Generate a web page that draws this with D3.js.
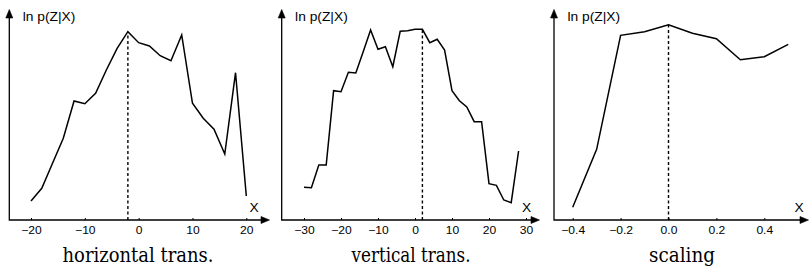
<!DOCTYPE html>
<html>
<head>
<meta charset="utf-8">
<script src="https://cdn.jsdelivr.net/npm/d3@7"></script>
<style>
  body { margin: 0; background: #fff; }
  svg { display: block; }
</style>
</head>
<body>
<div id="chart"></div>
<script>
// values (height of the curve, arbitrary log units)
var horizX = [-20, -18, -16, -14, -12, -10, -8, -6, -4, -2, 0, 2, 4, 6, 8, 10, 12, 14, 16, 18, 20];
var horizY = [19, 31.7, 56.7, 81.7, 119, 116.3, 126.7, 150, 171.7, 188.3, 177.3, 174, 164.3, 159.3, 185, 116.7, 101.7, 90.7, 66, 147.3, 24];

var vertX = [-30, -28, -26, -24, -22, -20, -18, -16, -14, -12, -10, -8, -6, -4, -2, 0, 2, 4, 6, 8, 10, 12, 14, 16, 18, 20, 22, 24, 26, 28];
var vertY = [32.7, 32.3, 55, 55, 129.3, 128.3, 147.7, 147, 168.3, 190, 170.7, 173.3, 153.3, 188.7, 189.3, 190.7, 190.7, 177.3, 180.7, 170, 129.3, 119.3, 113, 98.3, 98.3, 36.3, 34.7, 20, 17.3, 69];

var scaleX = [-0.4, -0.3, -0.2, -0.1, 0, 0.1, 0.2, 0.3, 0.4, 0.5];
var scaleY = [12.7, 70.7, 184.7, 188.3, 195.3, 186.7, 181.3, 160.3, 163.3, 175.7];

var horizTicks = [-20, -10, 0, 10, 20];
var vertTicks = [-30, -20, -10, 0, 10, 20, 30];
var scaleTicks = [-0.4, -0.2, 0, 0.2, 0.4];

var peaks = [-2, 2, 0];
var titles = ["horizontal trans.", "vertical trans.", "scaling"];
var yLabel = "ln p(Z|X)";
var xLabel = "X";

var width = 809, height = 273;
var sans = "Liberation Sans, Arial, sans-serif";
var serif = "DejaVu Serif, serif";

var svg = d3.select("#chart").append("svg")
    .attr("width", width)
    .attr("height", height);

// panel layout (pixel positions of axes)
var panels = [
  {xs: horizX, ys: horizY, ticks: horizTicks, dom: [-20, 20], rng: [31, 246.3], ax: 9.3, end: 269.5, xl: 254, peak: peaks[0], title: titles[0], tc: 138, tw: 151},
  {xs: vertX, ys: vertY, ticks: vertTicks, dom: [-30, 30], rng: [304, 526], ax: 281.7, end: 539.5, xl: 526.5, peak: peaks[1], title: titles[1], tc: 411, tw: 119},
  {xs: scaleX, ys: scaleY, ticks: scaleTicks, dom: [-0.4, 0.4], rng: [572.7, 764.3], ax: 554, end: 808.5, xl: 799, peak: peaks[2], title: titles[2], tc: 682, tw: 66}
];

var axisY = 220, topY = 9.5;
var y = d3.scaleLinear().domain([0, 210]).range([axisY, 10]);

panels.forEach(function(p){
  var x = d3.scaleLinear().domain(p.dom).range(p.rng);
  var g = svg.append("g");
  var pts = p.xs.map(function(v, i){ return [v, p.ys[i]]; });

  // ticks + labels
  var axis = d3.axisBottom(x)
      .tickValues(p.ticks)
      .tickSizeInner(-2)
      .tickSizeOuter(0)
      .tickPadding(7);
  var ag = g.append("g")
      .attr("transform", "translate(0," + axisY + ")")
      .call(axis)
      .attr("font-family", sans)
      .attr("font-size", 10.5);
  ag.select(".domain").remove();
  ag.selectAll(".tick line").attr("stroke", "#000");
  ag.selectAll(".tick text")
      .attr("fill", "#000")
      .attr("transform", "scale(1.15,1)");

  // axes
  g.append("path")
      .attr("d", "M" + p.ax + "," + (topY + 6) + "V" + axisY + "H" + (p.end - 6))
      .attr("fill", "none")
      .attr("stroke", "#000").attr("stroke-width", 1.3);

  // arrow heads
  g.append("path")
      .attr("d", "M" + p.end + "," + axisY + "l-8.5,-3.5v7z")
      .attr("fill", "black")
      .attr("stroke", "black")
      .attr("stroke-width", 0.6)
      .attr("stroke-linejoin", "miter");
  g.append("path")
      .attr("d", "M" + p.ax + "," + topY + "l-3.5,8.5h7z")
      .attr("fill", "black")
      .attr("stroke", "black")
      .attr("stroke-width", 0.6)
      .attr("stroke-linejoin", "miter");

  // dashed line at the maximum
  var iPeak = p.xs.indexOf(p.peak);
  g.append("line")
      .attr("x1", x(p.peak)).attr("y1", axisY)
      .attr("x2", x(p.peak)).attr("y2", y(p.ys[iPeak]))
      .attr("stroke", "#000").attr("stroke-width", 1.4)
      .attr("stroke-dasharray", "3,2.5");

  // the curve
  g.append("path")
      .datum(pts)
      .attr("d", d3.line().x(function(d){ return x(d[0]); }).y(function(d){ return y(d[1]); }))
      .attr("fill", "none")
      .attr("stroke", "#000")
      .attr("stroke-width", 1.5)
      .attr("stroke-linejoin", "miter");

  // labels
  g.append("text")
      .attr("transform", "translate(" + (p.ax + 13.4) + ",20.5) scale(1.15,1)")
      .attr("font-family", sans)
      .attr("font-size", 12)
      .text(yLabel);
  g.append("text")
      .attr("transform", "translate(" + p.xl + ",212.3) scale(1.15,1)")
      .attr("text-anchor", "middle")
      .attr("font-family", sans)
      .attr("font-size", 12)
      .text(xLabel);
  g.append("text")
      .attr("x", p.tc)
      .attr("y", 262)
      .attr("text-anchor", "middle")
      .attr("font-family", serif)
      .attr("font-size", 20)
      .attr("textLength", p.tw)
      .attr("lengthAdjust", "spacingAndGlyphs")
      .text(p.title);
});
</script>
</body>
</html>
